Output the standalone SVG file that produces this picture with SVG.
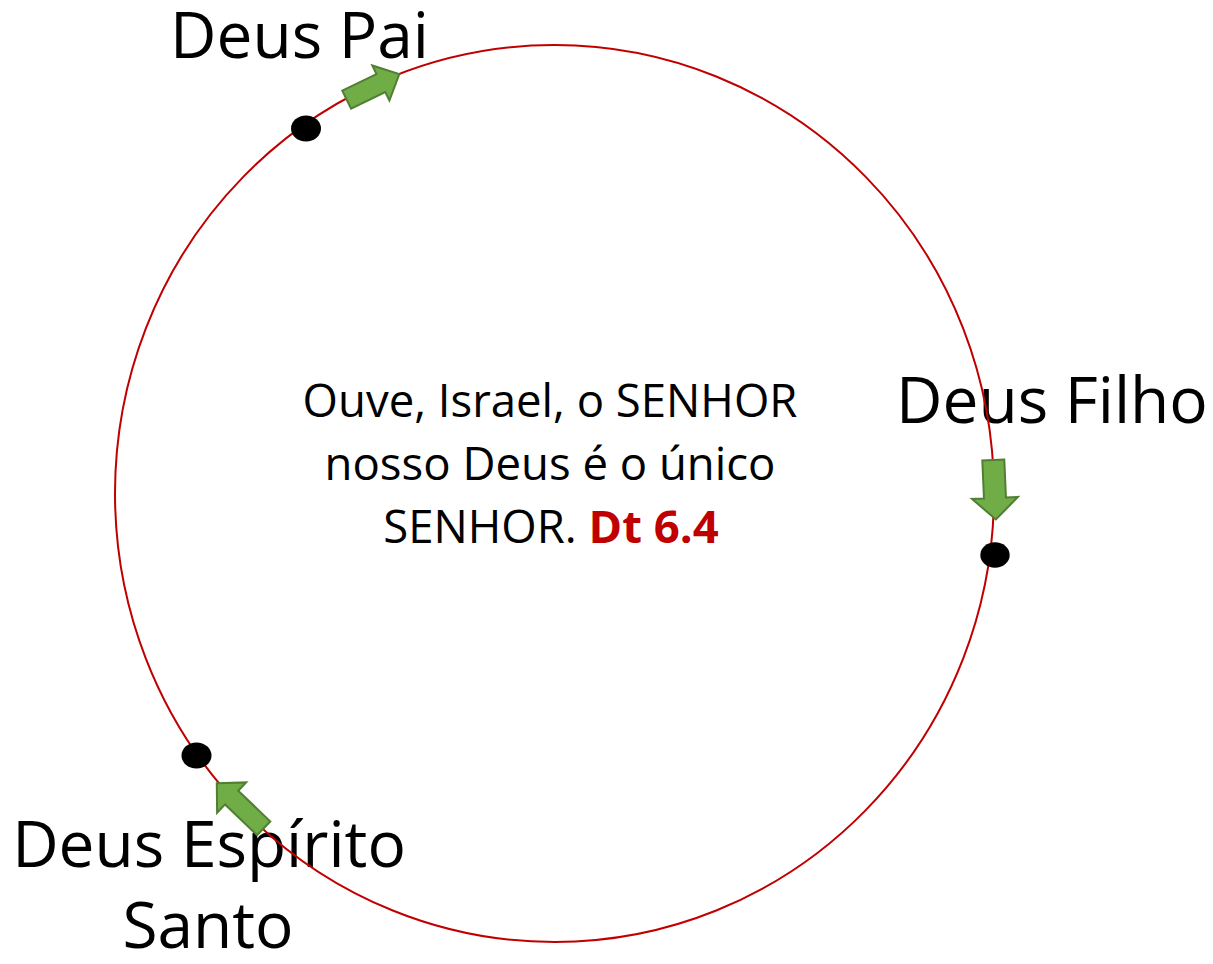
<svg xmlns="http://www.w3.org/2000/svg" width="1213" height="964" viewBox="0 0 1213 964">
  <style>
    .lbl { font-family: "Open Sans", "Noto Sans", sans-serif; font-size: 64px; fill: #000; }
    .mid { font-family: "Open Sans", "Noto Sans", sans-serif; font-size: 45.5px; fill: #000; text-anchor: middle; }
    .ref { font-weight: bold; fill: #C00000; }
    .arrow { fill: #70AD47; stroke: #507E32; stroke-width: 2; stroke-linejoin: miter; }
    .dot { fill: #000; }
  </style>
  <rect width="1213" height="964" fill="#fff"/>
  <g id="label-pai"><text class="lbl" x="170" y="58">Deus Pai</text></g>
  <g id="label-filho"><text class="lbl" x="896" y="423">Deus Filho</text></g>
  <g id="label-espirito">
    <text class="lbl" x="209" y="867" text-anchor="middle">Deus Espírito</text>
    <text class="lbl" x="208" y="948" text-anchor="middle">Santo</text>
  </g>
  <g id="center-text">
    <text class="mid" x="550" y="417">Ouve, Israel, o SENHOR</text>
    <text class="mid" x="550" y="480">nosso Deus é o único</text>
    <text class="mid" x="551" y="543">SENHOR. <tspan class="ref">Dt 6.4</tspan></text>
  </g>
  <g id="connectors">
    <ellipse cx="554.5" cy="493.5" rx="439.5" ry="448.5" fill="none" stroke="#C00000" stroke-width="2"/>
  </g>
  <g id="arrow-pai">
    <path class="arrow" transform="translate(346.7,99.7) rotate(-26)" d="M0,-10 H38 V-19.5 L58.5,0 L38,19.5 V10 H0 Z"/>
  </g>
  <g id="arrow-filho">
    <path class="arrow" transform="translate(993.3,460) rotate(87.5)" d="M0,-11 H38 V-23 L59.5,0 L38,23 V11 H0 Z"/>
  </g>
  <g id="arrow-espirito">
    <path class="arrow" transform="translate(263.7,828.3) rotate(-136.2)" d="M0,-9.5 H44.4 V-21 L65,0 L44.4,21 V9.5 H0 Z"/>
  </g>
  <g id="dot-pai"><ellipse class="dot" cx="306" cy="128.5" rx="15" ry="13"/></g>
  <g id="dot-filho"><ellipse class="dot" cx="995" cy="555" rx="14.7" ry="12.7"/></g>
  <g id="dot-espirito"><ellipse class="dot" cx="196.5" cy="755.5" rx="15" ry="13"/></g>
</svg>
